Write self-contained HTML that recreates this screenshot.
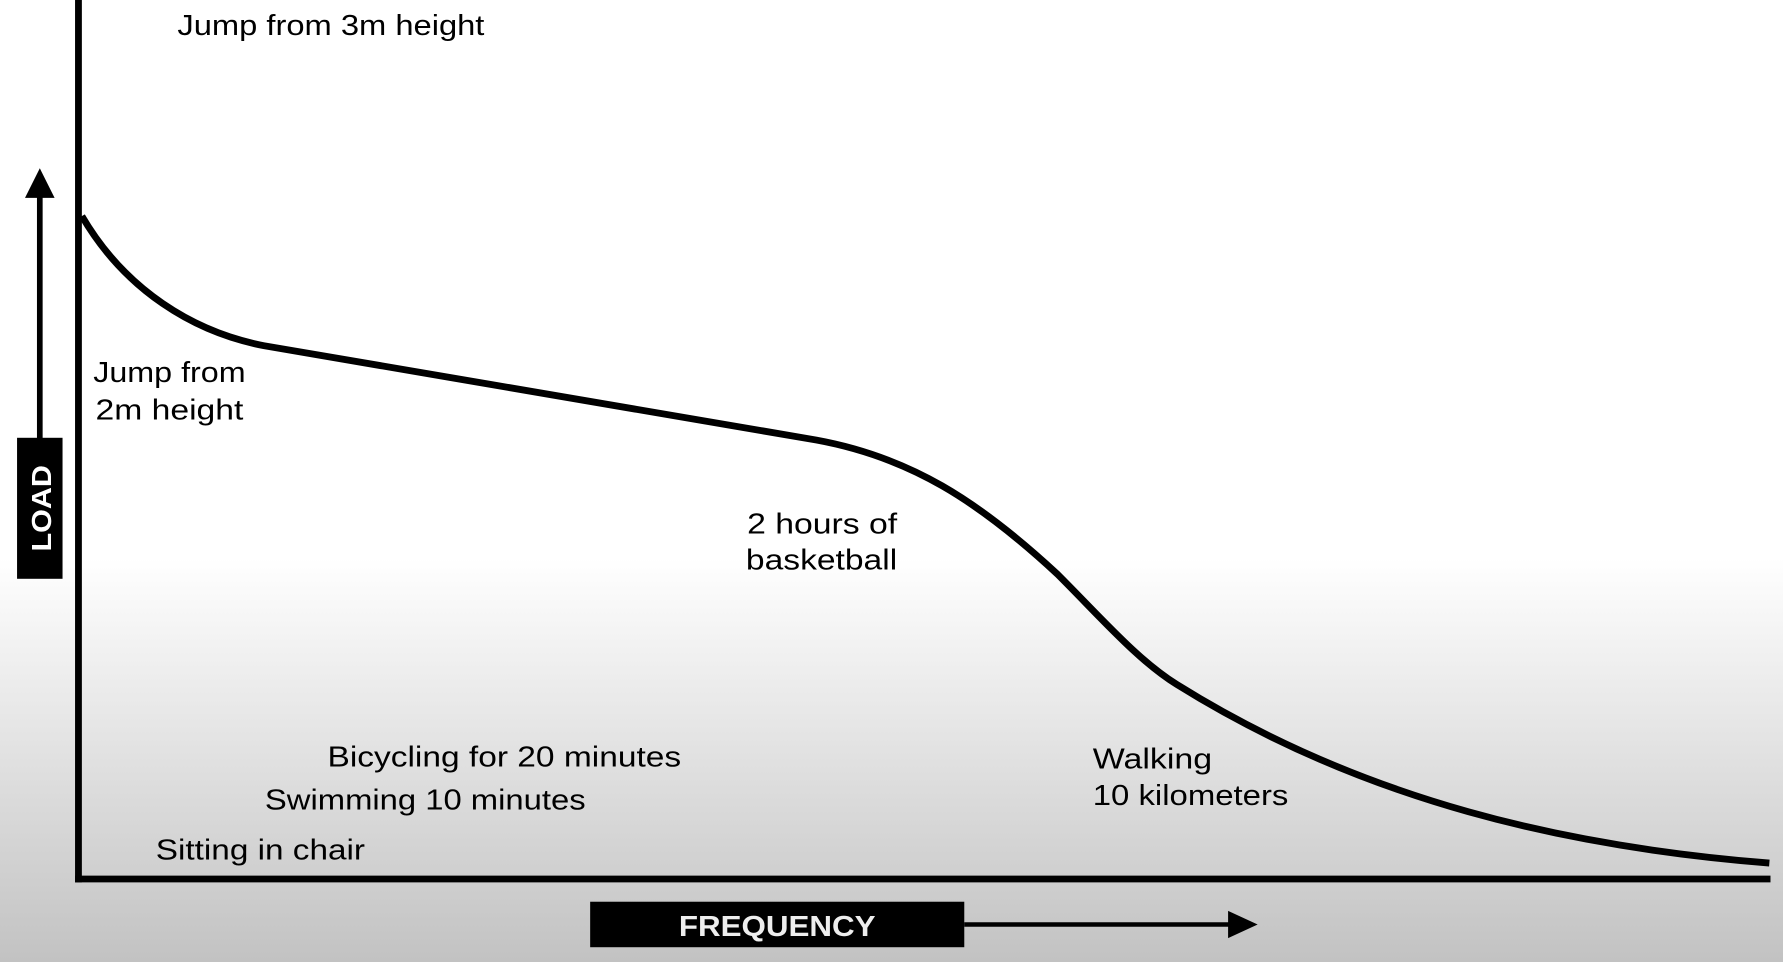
<!DOCTYPE html>
<html><head><meta charset="utf-8"><style>
html,body{margin:0;padding:0;width:1783px;height:962px;overflow:hidden}
svg{display:block}
text{font-family:"Liberation Sans",sans-serif;fill:#000}
</style></head><body>
<svg width="1783" height="962" viewBox="0 0 1568 846" preserveAspectRatio="none">
<defs><linearGradient id="g" x1="0" y1="0" x2="0" y2="1">
<stop offset="0" stop-color="#fff"/><stop offset="0.58" stop-color="#fff"/><stop offset="1" stop-color="#c2c2c2"/></linearGradient></defs>
<rect width="1568" height="846" fill="url(#g)"/>
<line x1="69" y1="0" x2="69" y2="776" stroke="#000" stroke-width="6"/>
<line x1="66" y1="773" x2="1557" y2="773" stroke="#000" stroke-width="6"/>
<path d="M72,190 C110,255 170,292 232,304 L718,387 C800,402 860,440 930,505 C970,545 1000,580 1035,602 C1200,705 1380,745 1556,759" fill="none" stroke="#000" stroke-width="6"/>
<line x1="35" y1="386" x2="35" y2="170" stroke="#000" stroke-width="5"/>
<polygon points="22,174 48,174 35,148" fill="#000"/>
<rect x="15" y="385" width="40" height="124" fill="#000"/>
<text transform="translate(45,447) rotate(-90)" text-anchor="middle" font-size="24" font-weight="bold" textLength="76" lengthAdjust="spacingAndGlyphs" style="fill:#fff">LOAD</text>
<rect x="519" y="793" width="329" height="40" fill="#000"/>
<text x="597" y="823" font-size="25" font-weight="bold" textLength="173" lengthAdjust="spacingAndGlyphs" style="fill:#eee">FREQUENCY</text>
<line x1="848" y1="813" x2="1082" y2="813" stroke="#000" stroke-width="4"/>
<polygon points="1080,801 1080,825 1106,813" fill="#000"/>
<g font-size="25">
<text x="156" y="31" textLength="270" lengthAdjust="spacingAndGlyphs">Jump from 3m height</text>
<text x="82" y="336" textLength="134" lengthAdjust="spacingAndGlyphs">Jump from</text>
<text x="84" y="369" textLength="130" lengthAdjust="spacingAndGlyphs">2m height</text>
<text x="657" y="469" textLength="132" lengthAdjust="spacingAndGlyphs">2 hours of</text>
<text x="656" y="501" textLength="133" lengthAdjust="spacingAndGlyphs">basketball</text>
<text x="288" y="674" textLength="311" lengthAdjust="spacingAndGlyphs">Bicycling for 20 minutes</text>
<text x="233" y="712" textLength="282" lengthAdjust="spacingAndGlyphs">Swimming 10 minutes</text>
<text x="137" y="756" textLength="184" lengthAdjust="spacingAndGlyphs">Sitting in chair</text>
<text x="961" y="676" textLength="105" lengthAdjust="spacingAndGlyphs">Walking</text>
<text x="961" y="708" textLength="172" lengthAdjust="spacingAndGlyphs">10 kilometers</text>
</g>
</svg>
</body></html>
